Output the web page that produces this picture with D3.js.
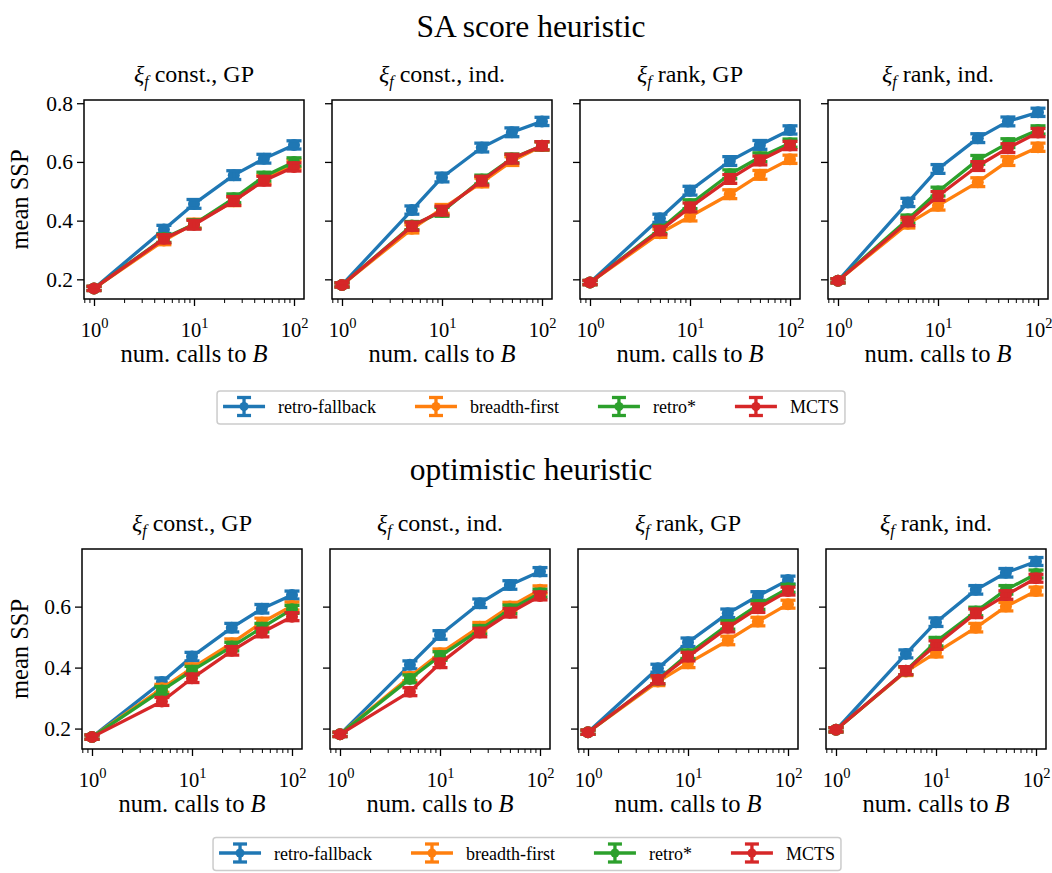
<!DOCTYPE html>
<html>
<head>
<meta charset="utf-8">
<script src="https://cdn.jsdelivr.net/npm/d3@7"></script>
<style>
  body { margin: 0; background: #fff; }
  svg { display: block; }
  svg text { font-family: "Liberation Serif", "Times New Roman", serif; }
</style>
</head>
<body>
<script>
// number of calls to the reaction model B (x values)
const calls = [1, 5, 10, 25, 50, 100];

const seriesNames = ["retro-fallback", "breadth-first", "retro*", "MCTS"];
const seriesColors = ["#1f77b4", "#ff7f0e", "#2ca02c", "#d62728"];
const panelLabels = ["const., GP", "const., ind.", "rank, GP", "rank, ind."];

const xTickExponents = [0, 1, 2];
const xMinorTicks = [0.8, 0.9, 2, 3, 4, 5, 6, 7, 8, 9, 20, 30, 40, 50, 60, 70, 80, 90];
const yTicksSA = [0.2, 0.4, 0.6, 0.8];
const yTicksOpt = [0.2, 0.4, 0.6];
const yDomainSA = [0.133, 0.811];
const yDomainOpt = [0.133, 0.789];

// SA score heuristic: mean SSP per panel (const. GP, const. ind., rank GP, rank ind.)
const saRetroFallback = [
  [0.169, 0.370, 0.457, 0.555, 0.611, 0.658],
  [0.181, 0.436, 0.547, 0.649, 0.701, 0.738],
  [0.189, 0.408, 0.502, 0.603, 0.658, 0.709],
  [0.195, 0.462, 0.576, 0.681, 0.738, 0.769]
];
const saBreadthFirst = [
  [0.169, 0.332, 0.390, 0.466, 0.540, 0.593],
  [0.181, 0.372, 0.440, 0.530, 0.603, 0.654],
  [0.189, 0.357, 0.414, 0.490, 0.556, 0.609],
  [0.195, 0.389, 0.451, 0.531, 0.603, 0.650]
];
const saRetroStar = [
  [0.169, 0.340, 0.388, 0.476, 0.550, 0.600],
  [0.181, 0.383, 0.430, 0.540, 0.612, 0.655],
  [0.189, 0.370, 0.456, 0.558, 0.616, 0.664],
  [0.195, 0.405, 0.499, 0.607, 0.664, 0.709]
];
const saMCTS = [
  [0.169, 0.338, 0.386, 0.467, 0.536, 0.583],
  [0.181, 0.381, 0.434, 0.536, 0.611, 0.655],
  [0.189, 0.366, 0.445, 0.542, 0.605, 0.656],
  [0.195, 0.397, 0.484, 0.586, 0.647, 0.700]
];

// optimistic heuristic
const optRetroFallback = [
  [0.172, 0.353, 0.436, 0.531, 0.593, 0.638],
  [0.181, 0.409, 0.507, 0.611, 0.671, 0.715],
  [0.188, 0.398, 0.483, 0.578, 0.635, 0.687],
  [0.196, 0.445, 0.549, 0.655, 0.711, 0.748]
];
const optBreadthFirst = [
  [0.172, 0.332, 0.398, 0.480, 0.548, 0.602],
  [0.181, 0.370, 0.447, 0.534, 0.600, 0.655],
  [0.188, 0.354, 0.414, 0.489, 0.551, 0.608],
  [0.196, 0.387, 0.449, 0.531, 0.600, 0.651]
];
const optRetroStar = [
  [0.172, 0.325, 0.390, 0.469, 0.531, 0.591],
  [0.181, 0.363, 0.438, 0.524, 0.591, 0.644],
  [0.188, 0.360, 0.444, 0.540, 0.605, 0.660],
  [0.196, 0.390, 0.485, 0.584, 0.655, 0.707]
];
const optMCTS = [
  [0.172, 0.289, 0.365, 0.455, 0.515, 0.567],
  [0.181, 0.321, 0.414, 0.515, 0.580, 0.635],
  [0.188, 0.360, 0.436, 0.531, 0.595, 0.651],
  [0.196, 0.390, 0.474, 0.578, 0.638, 0.693]
];

// standard-error half widths at each budget
const saErr = [0.007, 0.014, 0.015, 0.015, 0.015, 0.014];
const optErr = [0.007, 0.013, 0.014, 0.014, 0.014, 0.013];

const FONT = "Liberation Serif";
const W = 1052, H = 873;
const svg = d3.select("body").append("svg").attr("width", W).attr("height", H);

const rows = [
  { title: "SA score heuristic", titleY: 37, top: 100, bottom: 299, left0: 84,
    domain: yDomainSA, ticks: yTicksSA, err: saErr,
    series: [saRetroFallback, saBreadthFirst, saRetroStar, saMCTS],
    legendCx: 531, legendCy: 407.5 },
  { title: "optimistic heuristic", titleY: 480, top: 549, bottom: 749, left0: 82,
    domain: yDomainOpt, ticks: yTicksOpt, err: optErr,
    series: [optRetroFallback, optBreadthFirst, optRetroStar, optMCTS],
    legendCx: 527, legendCy: 854 }
];

const panelW = 220, panelStep = 248;
const lineW = 3.3, capHalf = 7.5, markerR = 6;

rows.forEach(row => {
  svg.append("text")
    .attr("x", 531).attr("y", row.titleY)
    .attr("text-anchor", "middle")
    .attr("font-family", FONT)
    .attr("font-size", 31.5)
    .text(row.title);

  const y = d3.scaleLinear().domain(row.domain).range([row.bottom, row.top]);

  panelLabels.forEach((lab, p) => {
    const left = row.left0 + p * panelStep;
    const x = d3.scaleLog().domain([Math.pow(10, -0.1), Math.pow(10, 2.1)]).range([left, left + panelW]);
    const g = svg.append("g");

    // subplot title with ξ_f
    const t = g.append("text")
      .attr("x", left + panelW / 2).attr("y", row.top - 18)
      .attr("text-anchor", "middle").attr("font-size", 24).attr("font-family", FONT);
    t.append("tspan").attr("font-style", "italic").text("ξ");
    t.append("tspan").attr("font-style", "italic").attr("font-size", 16).attr("dy", 5).text("f");
    t.append("tspan").attr("dy", -5).text(" " + lab);

    // y axis
    const yAxis = d3.axisLeft(y).tickValues(row.ticks).tickSize(7).tickPadding(4)
      .tickFormat(p === 0 ? d3.format(".1f") : () => "");
    const ya = g.append("g").attr("transform", `translate(${left},0)`).call(yAxis)
      .attr("font-family", FONT);
    ya.select(".domain").remove();
    ya.selectAll("line").attr("stroke", "#000").attr("stroke-width", 1.3);
    ya.selectAll("text").attr("font-size", 21.5).attr("font-family", FONT).attr("fill", "#000");

    // x axis, minor then major ticks
    const xMinor = d3.axisBottom(x).tickValues(xMinorTicks).tickSize(4).tickFormat(() => "");
    const xm = g.append("g").attr("transform", `translate(0,${row.bottom})`).call(xMinor);
    xm.select(".domain").remove();
    xm.selectAll("line").attr("stroke", "#000").attr("stroke-width", 1);

    const xMajor = d3.axisBottom(x).tickValues(xTickExponents.map(e => Math.pow(10, e))).tickSize(7).tickFormat(() => "");
    const xa = g.append("g").attr("transform", `translate(0,${row.bottom})`).call(xMajor)
      .attr("font-family", FONT);
    xa.select(".domain").remove();
    xa.selectAll("line").attr("stroke", "#000").attr("stroke-width", 1.3);
    xa.selectAll(".tick text").remove();
    xa.selectAll(".tick").each(function (d, i) {
      const tx = d3.select(this).append("text")
        .attr("y", 38).attr("text-anchor", "middle")
        .attr("font-size", 20.5).attr("fill", "#000").attr("font-family", FONT);
      tx.append("tspan").text("10");
      tx.append("tspan").attr("font-size", 14.5).attr("dy", -9).text(xTickExponents[i]);
    });

    // x label
    const xl = g.append("text")
      .attr("x", left + panelW / 2).attr("y", row.bottom + 63)
      .attr("text-anchor", "middle").attr("font-size", 24.5).attr("font-family", FONT);
    xl.append("tspan").text("num. calls to ");
    xl.append("tspan").attr("font-style", "italic").text("B");

    if (p === 0) {
      g.append("text")
        .attr("transform", `translate(28,${(row.top + row.bottom) / 2}) rotate(-90)`)
        .attr("text-anchor", "middle").attr("font-size", 24.5).attr("font-family", FONT)
        .text("mean SSP");
    }

    // series: line + markers, then error bars
    row.series.forEach((s, k) => {
      const vals = s[p];
      const pts = calls.map((c, i) => ({ x: c, v: vals[i], e: row.err[i] }));
      const sg = g.append("g");
      sg.append("path")
        .datum(pts)
        .attr("fill", "none").attr("stroke", seriesColors[k]).attr("stroke-width", lineW)
        .attr("stroke-linejoin", "round")
        .attr("d", d3.line().x(d => x(d.x)).y(d => y(d.v)));
      sg.selectAll("circle").data(pts).join("circle")
        .attr("cx", d => x(d.x)).attr("cy", d => y(d.v)).attr("r", markerR)
        .attr("fill", seriesColors[k]);
      const eb = sg.selectAll("g.eb").data(pts).join("g").attr("class", "eb")
        .attr("stroke", seriesColors[k]).attr("stroke-width", lineW);
      eb.append("line")
        .attr("x1", d => x(d.x)).attr("x2", d => x(d.x))
        .attr("y1", d => y(d.v - d.e)).attr("y2", d => y(d.v + d.e));
      eb.append("line")
        .attr("x1", d => x(d.x) - capHalf).attr("x2", d => x(d.x) + capHalf)
        .attr("y1", d => y(d.v - d.e)).attr("y2", d => y(d.v - d.e));
      eb.append("line")
        .attr("x1", d => x(d.x) - capHalf).attr("x2", d => x(d.x) + capHalf)
        .attr("y1", d => y(d.v + d.e)).attr("y2", d => y(d.v + d.e));
    });

    // frame
    g.append("rect")
      .attr("x", left).attr("y", row.top)
      .attr("width", panelW).attr("height", row.bottom - row.top)
      .attr("fill", "none").attr("stroke", "#000").attr("stroke-width", 1.5);
  });

  // legend
  const lg = svg.append("g");
  const box = lg.append("rect");
  const handleW = 42, textGap = 13, colGap = 39, pad = 6;
  let cx = 0;
  const items = [];
  seriesNames.forEach((name, k) => {
    const col = seriesColors[k];
    const ig = lg.append("g");
    ig.append("line").attr("x1", 0).attr("x2", handleW).attr("y1", 0).attr("y2", 0)
      .attr("stroke", col).attr("stroke-width", lineW);
    ig.append("line").attr("x1", handleW / 2).attr("x2", handleW / 2).attr("y1", -9).attr("y2", 9)
      .attr("stroke", col).attr("stroke-width", lineW);
    [-9, 9].forEach(dy => ig.append("line")
      .attr("x1", handleW / 2 - 7).attr("x2", handleW / 2 + 7)
      .attr("y1", dy).attr("y2", dy).attr("stroke", col).attr("stroke-width", lineW));
    ig.append("circle").attr("cx", handleW / 2).attr("cy", 0).attr("r", 4.5).attr("fill", col);
    const tx = ig.append("text").attr("x", handleW + textGap).attr("y", 6.5)
      .attr("font-size", 18).attr("font-family", FONT).text(name);
    const tw = tx.node().getComputedTextLength();
    items.push({ ig, offset: cx });
    cx += handleW + textGap + tw + (k < seriesNames.length - 1 ? colGap : 0);
  });
  const totalW = cx + 2 * pad;
  const boxH = 33;
  const x0 = row.legendCx - totalW / 2;
  box.attr("x", x0).attr("y", row.legendCy - boxH / 2)
    .attr("width", totalW).attr("height", boxH).attr("rx", 3)
    .attr("fill", "#fff").attr("stroke", "#ccc").attr("stroke-width", 1.5);
  items.forEach(it => it.ig.attr("transform", `translate(${x0 + pad + it.offset},${row.legendCy - 1})`));
});
</script>
</body>
</html>
